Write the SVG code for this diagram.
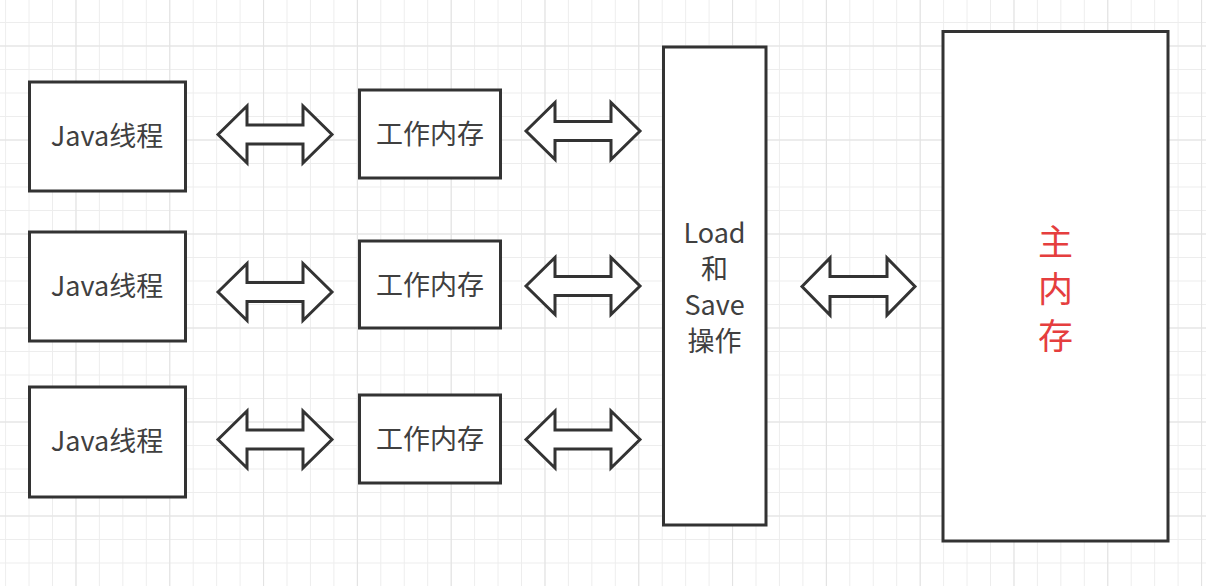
<svg xmlns="http://www.w3.org/2000/svg" width="1206" height="586" viewBox="0 0 1206 586">
  <defs>
    <pattern id="gridMinor" patternUnits="userSpaceOnUse" x="5.1" y="-1.5" width="23.45" height="23.5">
      <path d="M0.5 0 V23.5 M0 0.5 H23.45" fill="none" stroke="#ededed" stroke-width="1"/>
    </pattern>
    <pattern id="gridMajor" patternUnits="userSpaceOnUse" x="75.5" y="45.5" width="93.8" height="94">
      <path d="M0.5 0 V94 M0 0.5 H93.8" fill="none" stroke="#e2e2e2" stroke-width="1"/>
    </pattern>
    <style>
      .box { fill: #ffffff; stroke: #333333; stroke-width: 3; }
      .arrow { fill: #ffffff; stroke: #333333; stroke-width: 3; stroke-linejoin: miter; }
      .lbl { font-family: "Noto Sans CJK SC", "Noto Sans", sans-serif; font-size: 27px; fill: #404040; text-anchor: middle; }
      .main { font-family: "Noto Sans CJK SC", "Noto Sans", sans-serif; font-size: 35px; fill: #e53e3e; text-anchor: middle; }
    </style>
  </defs>

  <rect x="0" y="0" width="1206" height="586" fill="#ffffff"/>
  <rect x="0" y="0" width="1206" height="586" fill="url(#gridMinor)"/>
  <rect x="0" y="0" width="1206" height="586" fill="url(#gridMajor)"/>

  <g id="java1">
    <rect class="box" x="29.5" y="82" width="156" height="109"/>
    <text class="lbl" x="107" y="146">Java线程</text>
  </g>
  <g id="java2">
    <rect class="box" x="29.5" y="232" width="156" height="109"/>
    <text class="lbl" x="107" y="296">Java线程</text>
  </g>
  <g id="java3">
    <rect class="box" x="29.5" y="387" width="156" height="110"/>
    <text class="lbl" x="107" y="451">Java线程</text>
  </g>

  <g id="work1">
    <rect class="box" x="359.5" y="90" width="141" height="88"/>
    <text class="lbl" x="430" y="144">工作内存</text>
  </g>
  <g id="work2">
    <rect class="box" x="359.5" y="241" width="141" height="87"/>
    <text class="lbl" x="430" y="294.5">工作内存</text>
  </g>
  <g id="work3">
    <rect class="box" x="359.5" y="395" width="141" height="88"/>
    <text class="lbl" x="430" y="449">工作内存</text>
  </g>

  <g id="loadsave">
    <rect class="box" x="663.5" y="47" width="102.5" height="478"/>
    <text class="lbl" x="714.5" y="243">Load</text>
    <text class="lbl" x="714.5" y="279">和</text>
    <text class="lbl" x="714.5" y="315">Save</text>
    <text class="lbl" x="714.5" y="351">操作</text>
  </g>

  <g id="mainmem">
    <rect class="box" x="943" y="31.5" width="225" height="509.5"/>
    <text class="main" x="1055.5" y="255">主</text>
    <text class="main" x="1055.5" y="302">内</text>
    <text class="main" x="1055.5" y="349">存</text>
  </g>

  <g id="connectors">
    <path class="arrow" d="M218 134.5 L247 106 L247 125 L303 125 L303 106 L332 134.5 L303 163 L303 144 L247 144 L247 163 Z"/>
    <path class="arrow" d="M526 131 L555 102.5 L555 121.5 L611 121.5 L611 102.5 L640 131 L611 159.5 L611 140.5 L555 140.5 L555 159.5 Z"/>
    <path class="arrow" d="M218 292 L247 263.5 L247 282.5 L303 282.5 L303 263.5 L332 292 L303 320.5 L303 301.5 L247 301.5 L247 320.5 Z"/>
    <path class="arrow" d="M526 286 L555 257.5 L555 276.5 L611 276.5 L611 257.5 L640 286 L611 314.5 L611 295.5 L555 295.5 L555 314.5 Z"/>
    <path class="arrow" d="M218 439.5 L247 411 L247 430 L303 430 L303 411 L332 439.5 L303 468 L303 449 L247 449 L247 468 Z"/>
    <path class="arrow" d="M526 439.5 L555 411 L555 430 L611 430 L611 411 L640 439.5 L611 468 L611 449 L555 449 L555 468 Z"/>
    <path class="arrow" d="M802 286.5 L830 258 L830 276.5 L887 276.5 L887 258 L915 286.5 L887 315 L887 296.5 L830 296.5 L830 315 Z"/>
  </g>
</svg>
